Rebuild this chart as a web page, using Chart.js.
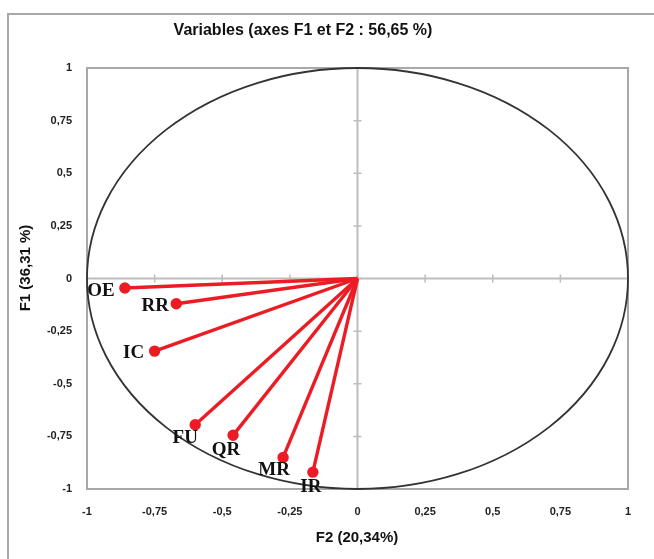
<!DOCTYPE html>
<html>
<head>
<meta charset="utf-8">
<script src="https://cdn.jsdelivr.net/npm/chart.js@4"></script>
<style>
  body { margin: 0; background: #fff; }
  #wrap { width: 654px; height: 559px; position: relative; }
</style>
</head>
<body>
<div id="wrap"><canvas id="cercle"></canvas></div>
<script>
// variables on the F1/F2 correlation circle
const variables = ['OE', 'RR', 'IC', 'FU', 'QR', 'MR', 'IR']
const f2 = [-0.86, -0.67, -0.75, -0.60, -0.46, -0.275, -0.165]
const f1 = [-0.045, -0.12, -0.345, -0.695, -0.745, -0.85, -0.92]
const tickValues = [-1, -0.75, -0.5, -0.25, 0, 0.25, 0.5, 0.75, 1]

// where each name sits next to its point (px)
const labelOffsets = [[-24, 3], [-21, 2], [-21, 2], [-10, 13], [-7, 15], [-9, 13], [-2, 15]]

const red = '#ec1c24'

const datasets = variables.map((name, i) => ({
  label: name,
  data: [{ x: 0, y: 0 }, { x: f2[i], y: f1[i] }],
  borderColor: red,
  backgroundColor: red,
  borderWidth: 3.4,
  pointRadius: [0, 4],
  pointHoverRadius: [0, 4],
  showLine: true,
}))

const fmt = (v) => String(v).replace('.', ',')

const circlePlugin = {
  id: 'circlePlugin',
  beforeDatasetsDraw(chart) {
    const { ctx, chartArea: a } = chart
    const sx = chart.scales.x
    const sy = chart.scales.y
    const cx = sx.getPixelForValue(0)
    const cy = sy.getPixelForValue(0)
    ctx.save()
    // zero axes
    ctx.strokeStyle = '#bdbdbd'
    ctx.lineWidth = 2
    ctx.beginPath()
    ctx.moveTo(a.left, cy); ctx.lineTo(a.right, cy)
    ctx.moveTo(cx, a.top); ctx.lineTo(cx, a.bottom)
    ctx.stroke()
    ctx.lineWidth = 1.5
    ctx.beginPath()
    tickValues.forEach((v) => {
      const px = sx.getPixelForValue(v)
      const py = sy.getPixelForValue(v)
      ctx.moveTo(px, cy - 4); ctx.lineTo(px, cy + 4)
      ctx.moveTo(cx - 4, py); ctx.lineTo(cx + 4, py)
    })
    ctx.stroke()
    // plot frame
    ctx.strokeStyle = '#a8a8a8'
    ctx.lineWidth = 2
    ctx.strokeRect(a.left, a.top, a.right - a.left, a.bottom - a.top)
    // unit circle
    ctx.strokeStyle = '#333'
    ctx.lineWidth = 1.8
    ctx.beginPath()
    ctx.ellipse(cx, cy, sx.getPixelForValue(1) - cx, cy - sy.getPixelForValue(1), 0, 0, Math.PI * 2)
    ctx.stroke()
    ctx.restore()
  },
  afterDatasetsDraw(chart) {
    const { ctx } = chart
    const sx = chart.scales.x
    const sy = chart.scales.y
    ctx.save()
    ctx.fillStyle = '#111'
    ctx.font = 'bold 19px "Liberation Serif"'
    ctx.textAlign = 'center'
    ctx.textBaseline = 'middle'
    variables.forEach((name, i) => {
      const px = sx.getPixelForValue(f2[i])
      const py = sy.getPixelForValue(f1[i])
      ctx.fillText(name, px + labelOffsets[i][0], py + labelOffsets[i][1])
    })
    ctx.restore()
  },
  afterDraw(chart) {
    const { ctx } = chart
    ctx.save()
    // outer frame
    ctx.strokeStyle = '#a8a8a8'
    ctx.lineWidth = 2
    ctx.strokeRect(8, 14, 700, 600)
    ctx.fillStyle = '#111'
    ctx.textAlign = 'center'
    ctx.textBaseline = 'middle'
    ctx.font = 'bold 16px "Liberation Sans"'
    ctx.fillText('Variables (axes F1 et F2 : 56,65 %)', 303, 31)
    ctx.font = 'bold 15px "Liberation Sans"'
    ctx.fillText('F2 (20,34%)', 357, 538)
    ctx.translate(26, 268)
    ctx.rotate(-Math.PI / 2)
    ctx.fillText('F1 (36,31 %)', 0, 0)
    ctx.restore()
  },
}

new Chart(document.getElementById('cercle'), {
  type: 'scatter',
  data: { datasets: datasets },
  options: {
    responsive: true,
    maintainAspectRatio: false,
    animation: false,
    layout: { padding: { top: 68, right: 26, left: 0, bottom: 0 } },
    plugins: { legend: { display: false }, tooltip: { enabled: false }, title: { display: false } },
    scales: {
      x: {
        type: 'linear',
        min: -1,
        max: 1,
        afterFit: (s) => { s.height = 70 },
        afterBuildTicks: (s) => { s.ticks = tickValues.map((v) => ({ value: v })) },
        grid: { display: false, drawTicks: false },
        border: { display: false },
        ticks: { padding: 16, color: '#222', font: { family: 'Liberation Sans', size: 11, weight: 'bold' }, callback: fmt },
      },
      y: {
        type: 'linear',
        min: -1,
        max: 1,
        afterFit: (s) => { s.width = 87 },
        afterBuildTicks: (s) => { s.ticks = tickValues.map((v) => ({ value: v })) },
        grid: { display: false, drawTicks: false },
        border: { display: false },
        ticks: { padding: 15, color: '#222', font: { family: 'Liberation Sans', size: 11, weight: 'bold' }, callback: fmt },
      },
    },
  },
  plugins: [circlePlugin],
})
</script>
</body>
</html>
